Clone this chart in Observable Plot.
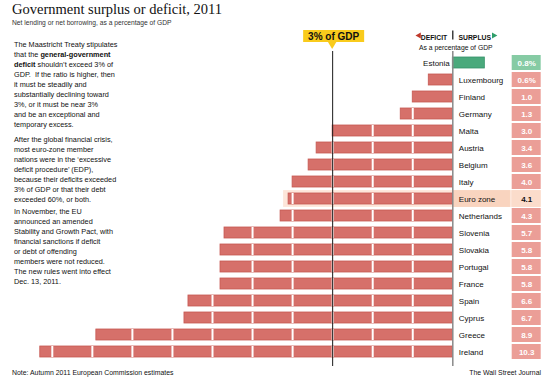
<!DOCTYPE html>
<html>
<head>
<meta charset="utf-8">
<script src="https://cdn.jsdelivr.net/npm/d3@7"></script>
<script src="https://cdn.jsdelivr.net/npm/@observablehq/plot@0.6"></script>
<style>
  body { margin: 0; background: #fff; }
  #wrap { position: relative; width: 550px; height: 383px; overflow: hidden; font-family: "Liberation Sans", Arial, sans-serif; color: #111; }
  #head { position: relative; height: 28px; }
  #title { position: absolute; left: 12px; top: 1px; font-family: "Liberation Serif", serif; font-size: 14.5px; line-height: 16px; white-space: nowrap; color: #111; }
  #sub { position: absolute; left: 12px; top: 19px; font-size: 6.7px; line-height: 8px; white-space: nowrap; color: #333; }
  #chart svg { display: block; }
  #foot { position: relative; height: 15px; font-size: 6.9px; }
  #note { position: absolute; left: 12px; top: 0; line-height: 9px; white-space: nowrap; }
  #credit { position: absolute; right: 9px; top: 0; line-height: 9px; white-space: nowrap; }
  #story { position: absolute; left: 14px; top: 40px; font-size: 7.3px; line-height: 10px; white-space: nowrap; color: #111; }
  #story p { margin: 0; }
  #story p.p2 { margin-top: 5px; }
  #story p.p3 { margin-top: 2px; }
</style>
</head>
<body>
<div id="wrap">
  <div id="head">
    <div id="title">Government surplus or deficit, 2011</div>
    <div id="sub">Net lending or net borrowing, as a percentage of GDP</div>
  </div>
  <div id="chart"></div>
  <div id="foot">
    <div id="note">Note: Autumn 2011 European Commission estimates</div>
    <div id="credit">The Wall Street Journal</div>
  </div>
  <div id="story">
    <p>The Maastricht Treaty stipulates<br>that the <b>general-government</b><br><b>deficit</b> shouldn’t exceed 3% of<br>GDP.&nbsp; If the ratio is higher, then<br>it must be steadily and<br>substantially declining toward<br>3%, or it must be near 3%<br>and be an exceptional and<br>temporary excess.</p>
    <p class="p2">After the global financial crisis,<br>most euro-zone member<br>nations were in the ‘excessive<br>deficit procedure’ (EDP),<br>because their deficits exceeded<br>3% of GDP or that their debt<br>exceeded 60%, or both.</p>
    <p class="p3">In November, the EU<br>announced an amended<br>Stability and Growth Pact, with<br>financial sanctions if deficit<br>or debt of offending<br>members were not reduced.<br>The new rules went into effect<br>Dec. 13, 2011.</p>
  </div>
</div>
<script>
// ---- data ----
const countries = ["Estonia", "Luxembourg", "Finland", "Germany", "Malta", "Austria", "Belgium", "Italy", "Euro zone", "Netherlands", "Slovenia", "Slovakia", "Portugal", "France", "Spain", "Cyprus", "Greece", "Ireland"];
const values = [0.8, -0.6, -1.0, -1.3, -3.0, -3.4, -3.6, -4.0, -4.1, -4.3, -5.7, -5.8, -5.8, -5.8, -6.6, -6.7, -8.9, -10.3];
const valueLabels = ["0.8%", "0.6%", "1.0", "1.3", "3.0", "3.4", "3.6", "4.0", "4.1", "4.3", "5.7", "5.8", "5.8", "5.8", "6.6", "6.7", "8.9", "10.3"];
const threshold = -3;
const thresholdLabel = "3% of GDP";
const highlighted = "Euro zone";

// ---- layout (in % of GDP units on the x scale) ----
const layout = { boxFrom: 1.483, boxTo: 2.207, labelTo: 1.44, halo: 0.125 };

// ---- styles ----
const red = "#d6706a", redStroke = "#c65852";
const green = "#4aa97c", greenStroke = "#36926a";
const pinkBox = "#eb9e97", greenBox = "#86cba4";
const yellow = "#f9cb1c";

const rows = countries.map((c, i) => ({ country: c, value: values[i], label: valueLabels[i] }));
const hl = rows.filter(d => d.country === highlighted);
const gridTicks = rows.flatMap(d => d.value < 0
  ? d3.range(1, Math.ceil(-d.value - 0.05)).map(k => ({ country: d.country, x: -k }))
  : []);

const callout = (index, scales) => {
  const cx = scales.x(threshold);
  const zx = scales.x(0);
  const g = d3.create("svg:g");
  g.append("rect").attr("x", cx - 29).attr("y", 2).attr("width", 61).attr("height", 12).attr("fill", yellow);
  g.append("path").attr("d", `M${cx - 4.5},13.5L${cx + 4.5},13.5L${cx},21Z`).attr("fill", yellow);
  g.append("text").attr("x", cx + 1.5).attr("y", 8).attr("dy", "0.36em")
    .attr("text-anchor", "middle").attr("font-weight", "bold").attr("font-size", 10)
    .attr("fill", "#111").text(thresholdLabel);
  // separator between DEFICIT and SURPLUS
  g.append("line").attr("x1", zx + 0.5).attr("x2", zx + 0.5).attr("y1", 2.5).attr("y2", 11.5)
    .attr("stroke", "#111").attr("stroke-width", 1.2);
  return g.node();
};

const chart = Plot.plot({
  width: 550,
  height: 340,
  marginTop: 23,
  marginBottom: 2,
  marginLeft: 0,
  marginRight: 0,
  x: { domain: [-10, 0], range: [51.8, 452.3], axis: null },
  y: { domain: countries, range: [15.8, 341.1], padding: 0.38, axis: null },
  style: { fontFamily: "Liberation Sans, Arial, sans-serif", background: "white", overflow: "visible" },
  marks: [
    // highlight row
    Plot.barX(hl, { x1: d => d.value - layout.halo, x2: layout.boxTo, y: "country", fill: "#fde6da", insetTop: -2.9, insetBottom: -2.9 }),
    Plot.barX(hl, { x1: 0, x2: layout.labelTo, y: "country", fill: "#f9d4bf", insetTop: -2.9, insetBottom: -2.9 }),
    // bars
    Plot.barX(rows.filter(d => d.value < 0), { x1: 0, x2: "value", y: "country", fill: red, stroke: redStroke, strokeWidth: 0.8 }),
    Plot.barX(rows.filter(d => d.value > 0), { x1: 0, x2: "value", y: "country", fill: green, stroke: greenStroke, strokeWidth: 0.8 }),
    Plot.tickX(gridTicks, { x: "x", y: "country", stroke: "white", strokeWidth: 2 }),
    // reference lines
    Plot.ruleX([0], { stroke: "#8a8a8a", strokeWidth: 1.5 }),
    Plot.ruleX([threshold], { stroke: "#1a1a1a", strokeWidth: 1 }),
    callout,
    // header
    Plot.dot(["d"], { x: () => 0, frameAnchor: "top", dy: -16, dx: -33.8, symbol: "triangle", rotate: -90, r: 2.3, fill: "#c0392b", stroke: null }),
    Plot.text(["DEFICIT"], { x: () => 0, text: d => d, frameAnchor: "top", dy: -16, dx: -5.6, textAnchor: "end", fontWeight: "bold", fontSize: 6.8, fill: "#111" }),
    Plot.text(["SURPLUS"], { x: () => 0, text: d => d, frameAnchor: "top", dy: -16, dx: 5.7, textAnchor: "start", fontWeight: "bold", fontSize: 6.8, fill: "#111" }),
    Plot.dot(["s"], { x: () => 0, frameAnchor: "top", dy: -16, dx: 41, symbol: "triangle", rotate: 90, r: 2.3, fill: "#2e9e6a", stroke: null }),
    Plot.text(["As a percentage of GDP"], { x: () => 0, text: d => d, frameAnchor: "top", dy: -6, dx: 3, fontSize: 6.8, fill: "#111" }),
    // country labels
    Plot.text(rows.filter(d => d.value > 0), { x: 0, y: "country", text: "country", textAnchor: "end", dx: -3, fontSize: 8, fill: "#111" }),
    Plot.text(rows.filter(d => d.value <= 0), { x: 0, y: "country", text: "country", textAnchor: "start", dx: 6, fontSize: 8, fill: "#111" }),
    // value boxes
    Plot.barX(rows.filter(d => d.country !== highlighted), {
      x1: layout.boxFrom, x2: layout.boxTo, y: "country",
      fill: d => d.value > 0 ? greenBox : pinkBox,
      insetTop: -2, insetBottom: -2
    }),
    Plot.barX(hl, { x1: layout.boxFrom, x2: layout.boxTo, y: "country", fill: "#fbdccb", insetTop: -2.9, insetBottom: -2.9 }),
    Plot.text(rows.filter(d => d.country !== highlighted), {
      x: (layout.boxFrom + layout.boxTo) / 2, y: "country", text: "label",
      fill: "white", fontWeight: "bold", fontSize: 8
    }),
    Plot.text(hl, {
      x: (layout.boxFrom + layout.boxTo) / 2, y: "country", text: "label",
      fill: "#111", fontWeight: "bold", fontSize: 8
    })
  ]
});
document.getElementById("chart").appendChild(chart);
</script>
</body>
</html>
